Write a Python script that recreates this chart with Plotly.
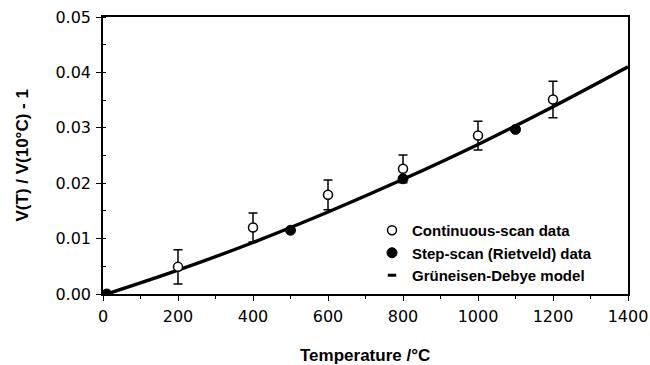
import plotly.graph_objects as go

# Continuous-scan data (open circles with error bars)
cont_T = [200, 400, 600, 800, 1000, 1200]
cont_V = [0.0049, 0.0120, 0.0179, 0.0226, 0.0286, 0.0351]
cont_err = [0.0031, 0.0026, 0.0027, 0.0025, 0.0026, 0.0033]

# Step-scan (Rietveld) data (filled circles)
step_T = [10, 500, 800, 1100]
step_V = [0.0, 0.0115, 0.0208, 0.0297]

# Grüneisen-Debye model curve
model_T = [10, 200, 400, 600, 800, 1000, 1200, 1400]
model_V = [0.0, 0.0043, 0.0093, 0.0148, 0.0207, 0.0270, 0.0338, 0.0410]

x_ticks = [0, 200, 400, 600, 800, 1000, 1200, 1400]
y_ticks = [0.00, 0.01, 0.02, 0.03, 0.04, 0.05]
y_tick_text = ["0.00", "0.01", "0.02", "0.03", "0.04", "0.05"]

tick_font = dict(family="DejaVu Sans", size=16, color="black")
bold_font = dict(family="Liberation Sans", size=15, color="black", weight="bold")

L, R, T, B = 103, 22, 17, 71
plot_w = 650 - L - R
plot_h = 365 - T - B

fig = go.Figure()

fig.add_trace(go.Scatter(
    x=model_T, y=model_V, mode="lines", line=dict(color="black", width=3.4, shape="spline"),
    showlegend=False, hoverinfo="skip"))

fig.add_trace(go.Scatter(
    x=cont_T, y=cont_V, mode="markers", name="Continuous-scan data",
    marker=dict(symbol="circle", size=9, color="white", line=dict(color="black", width=1.5)),
    error_y=dict(type="data", array=cont_err, color="black", thickness=1.5, width=4.5)))

fig.add_trace(go.Scatter(
    x=step_T, y=step_V, mode="markers", name="Step-scan (Rietveld) data",
    marker=dict(symbol="circle", size=10, color="black", line=dict(color="black", width=1))))

# legend-only entry for the model line (short dash symbol)
fig.add_trace(go.Scatter(
    x=[None], y=[None], mode="markers", name="Grüneisen-Debye model",
    marker=dict(symbol="line-ew", size=6, color="black", line=dict(color="black", width=3))))

fig.update_layout(
    template="none",
    width=650, height=365,
    margin=dict(l=L, r=R, t=T, b=B, pad=0),
    paper_bgcolor="white", plot_bgcolor="white",
    showlegend=True,
    legend=dict(
        x=(372 - L) / plot_w, y=(365 - B - 214) / plot_h,
        xanchor="left", yanchor="top",
        font=bold_font, bgcolor="rgba(0,0,0,0)", borderwidth=0,
        tracegroupgap=0, itemwidth=30),
    xaxis=dict(
        range=[0, 1400], tickvals=x_ticks, ticktext=[str(v) for v in x_ticks],
        ticks="outside", ticklen=5, tickwidth=1.2, tickcolor="black",
        minor=dict(dtick=100, ticks="outside", ticklen=3, tickcolor="black"),
        showline=True, linecolor="black", linewidth=1.5, mirror=True,
        showgrid=False, zeroline=False, tickfont=tick_font, ticklabelstandoff=2,
        automargin=False),
    yaxis=dict(
        range=[0, 0.05], tickvals=y_ticks, ticktext=y_tick_text,
        ticks="outside", ticklen=5, tickwidth=1.2, tickcolor="black",
        minor=dict(dtick=0.005, ticks="inside", ticklen=3, tickcolor="black"),
        showline=True, linecolor="black", linewidth=1.5, mirror=True,
        showgrid=False, zeroline=False, tickfont=tick_font, ticklabelstandoff=2,
        automargin=False),
    annotations=[
        dict(text="Temperature /°C", x=(365 - L) / plot_w, y=-(355 - (365 - B)) / plot_h,
             xref="paper", yref="paper",
             xanchor="center", yanchor="middle", showarrow=False,
             font=dict(family="Liberation Sans", size=17, color="black", weight="bold")),
        dict(text="V(T) / V(10°C) - 1", x=-(L - 22) / plot_w, y=0.5, xref="paper", yref="paper",
             xanchor="center", yanchor="middle", showarrow=False, textangle=-90,
             font=dict(family="Liberation Sans", size=17, color="black", weight="bold")),
    ],
)

fig.write_html("out.html")
